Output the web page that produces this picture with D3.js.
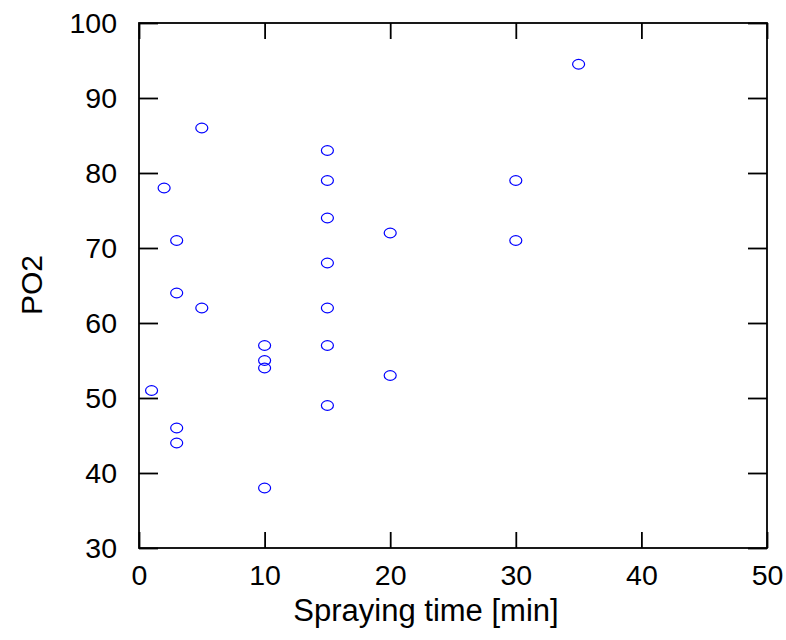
<!DOCTYPE html>
<html>
<head>
<meta charset="utf-8">
<script src="https://cdn.jsdelivr.net/npm/d3@7"></script>
<style>
  body { margin: 0; background: #fff; }
  svg { display: block; font-family: "Liberation Sans", Arial, sans-serif; }
</style>
</head>
<body>
<svg id="chart"></svg>
<script>
// spraying time [min] and PO2 readings
const sprayTime = [1, 2, 3, 3, 3, 3, 5, 5, 10, 10, 10, 10, 15, 15, 15, 15, 15, 15, 15, 20, 20, 30, 30, 35];
const po2 = [51, 78, 71, 64, 46, 44, 86, 62, 57, 55, 54, 38, 83, 79, 74, 68, 62, 57, 49, 72, 53, 79, 71, 94.5];
const xTicks = [0, 10, 20, 30, 40, 50];
const yTicks = [30, 40, 50, 60, 70, 80, 90, 100];

const svg = d3.select('#chart')
  .attr('width', 786)
  .attr('height', 640);

const margin = { top: 23, right: 19, bottom: 92, left: 139 };
const width = 786 - margin.left - margin.right;
const height = 640 - margin.top - margin.bottom;

const g = svg.append('g').attr('transform', `translate(${margin.left},${margin.top})`);

const x = d3.scaleLinear().domain([0, 50]).range([0, width]);
const y = d3.scaleLinear().domain([30, 100]).range([height, 0]);

const styleAxis = sel => {
  sel.selectAll('.domain').remove();
  sel.selectAll('line').attr('stroke', '#000').attr('stroke-width', 1.8);
  sel.selectAll('text').attr('font-size', 28.5).attr('fill', '#000')
    .attr('font-family', '"Liberation Sans", Arial, sans-serif');
};

// axes (ticks point inward)
g.append('g')
  .attr('transform', `translate(0,${height})`)
  .call(d3.axisBottom(x).tickValues(xTicks).tickSizeInner(-16).tickSizeOuter(0).tickPadding(17))
  .call(styleAxis);

g.append('g')
  .call(d3.axisTop(x).tickValues(xTicks).tickSizeInner(-16).tickSizeOuter(0).tickFormat(''))
  .call(styleAxis);

g.append('g')
  .call(d3.axisLeft(y).tickValues(yTicks).tickSizeInner(-19).tickSizeOuter(0).tickPadding(22))
  .call(styleAxis);

g.append('g')
  .attr('transform', `translate(${width},0)`)
  .call(d3.axisRight(y).tickValues(yTicks).tickSizeInner(-19).tickSizeOuter(0).tickFormat(''))
  .call(styleAxis);

// frame
g.append('rect')
  .attr('width', width)
  .attr('height', height)
  .attr('fill', 'none')
  .attr('stroke', '#000')
  .attr('stroke-width', 1.8);

// points
g.selectAll('.pt')
  .data(sprayTime.map((t, i) => ({ t, v: po2[i] })))
  .enter().append('ellipse')
  .attr('class', 'pt')
  .attr('cx', d => x(d.t))
  .attr('cy', d => y(d.v))
  .attr('rx', 6)
  .attr('ry', 4.8)
  .attr('fill', 'none')
  .attr('stroke', '#0000ff')
  .attr('stroke-width', 1.2);

// labels
svg.append('text')
  .attr('x', 426)
  .attr('y', 621)
  .attr('text-anchor', 'middle')
  .attr('font-size', 31)
  .text('Spraying time [min]');

svg.append('text')
  .attr('transform', 'translate(42,285) rotate(-90)')
  .attr('text-anchor', 'middle')
  .attr('font-size', 30)
  .text('PO2');
</script>
</body>
</html>
